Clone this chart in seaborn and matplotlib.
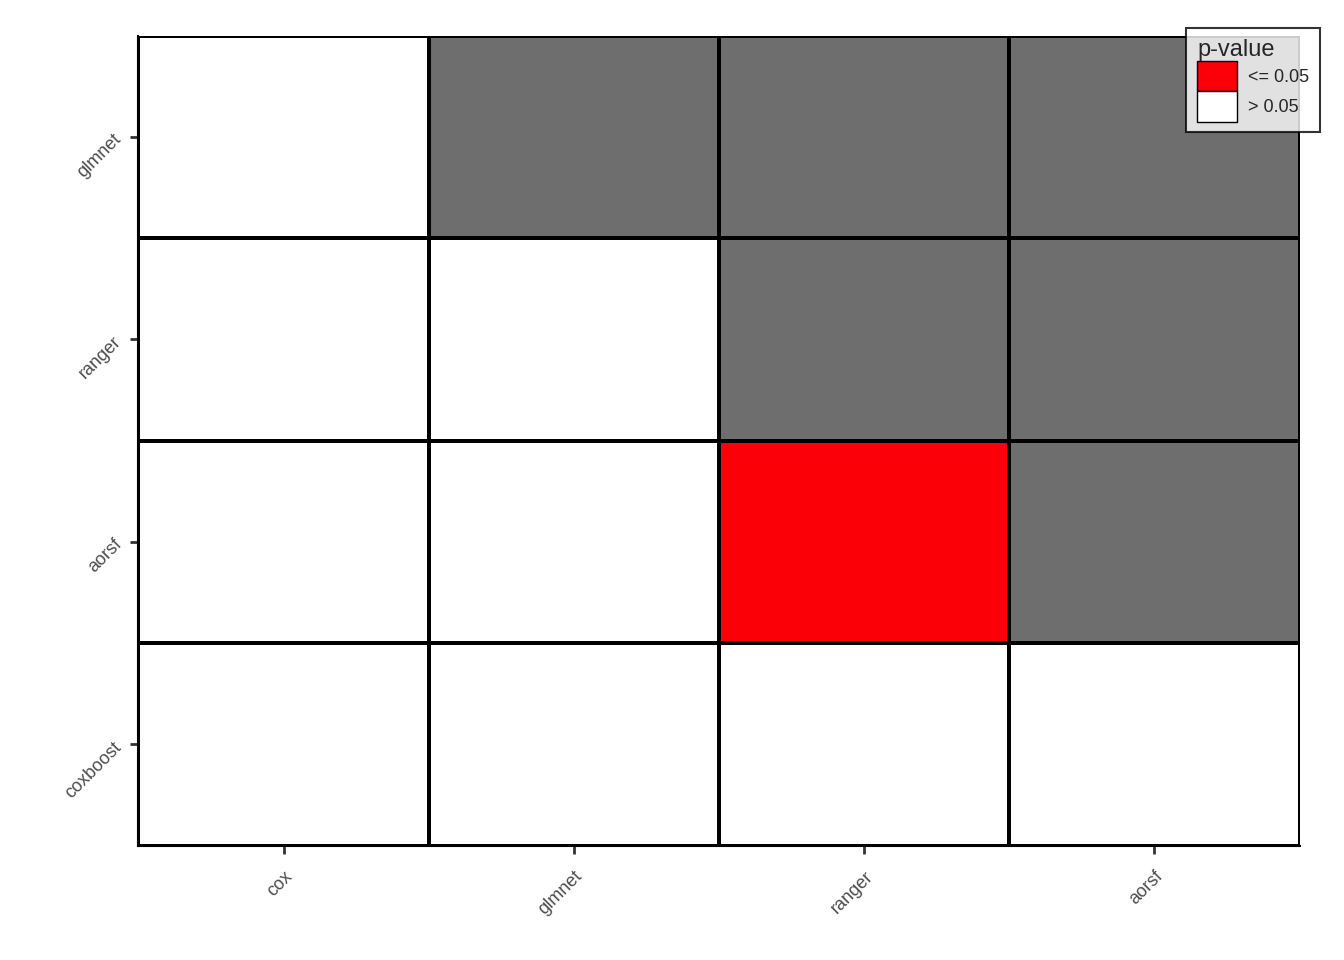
import matplotlib
matplotlib.use('Agg')
import matplotlib.pyplot as plt
import numpy as np
import pandas as pd
import seaborn as sns
from matplotlib.colors import ListedColormap
from matplotlib.patches import Patch

rows = ['glmnet', 'ranger', 'aorsf', 'coxboost']
cols = ['cox', 'glmnet', 'ranger', 'aorsf']
# 1 = p <= 0.05, 0 = p > 0.05, nan = not compared
sig = [[0, np.nan, np.nan, np.nan],
       [0, 0, np.nan, np.nan],
       [0, 0, 1, np.nan],
       [0, 0, 0, 0]]

df = pd.DataFrame(sig, index=rows, columns=cols)

sns.set_style('white')
plt.rcParams['font.family'] = ['Liberation Sans', 'DejaVu Sans']
fig, ax = plt.subplots(figsize=(13.44, 9.6), dpi=100)
fig.subplots_adjust(left=0.103, right=0.967, top=0.963, bottom=0.119)
ax.set_facecolor('#6e6e6e')
sns.heatmap(df, mask=df.isna(), cmap=ListedColormap(['white', '#fb0007']), vmin=0, vmax=1,
            linewidths=1.5, linecolor='black', cbar=False, ax=ax)
ax.set_xlabel('')
ax.set_ylabel('')
ax.tick_params(axis='both', length=6, width=2, color='#333333', labelsize=13, labelcolor='#4d4d4d', pad=8)
ax.tick_params(axis='x', bottom=True, pad=10)
ax.tick_params(axis='y', left=True)
plt.setp(ax.get_xticklabels(), rotation=45, ha='right', rotation_mode='anchor')
plt.setp(ax.get_yticklabels(), rotation=45, ha='right', va='center', rotation_mode='anchor')
for s in ['left', 'bottom']:
    ax.spines[s].set_visible(True)
    ax.spines[s].set_color('black')
    ax.spines[s].set_linewidth(1.5)

handles = [Patch(facecolor='#fb0007', edgecolor='black', label='<= 0.05'),
           Patch(facecolor='white', edgecolor='black', label='> 0.05')]
leg = ax.legend(handles=handles, title='p-value', loc='upper right', bbox_to_anchor=(1.025, 1.02),
                frameon=True, fontsize=13, title_fontsize=17, handlelength=2.2, handleheight=2.2,
                fancybox=False, borderpad=0.6, handletextpad=0.6, labelspacing=0.0)
leg.get_frame().set_edgecolor('black')
leg.get_frame().set_linewidth(1.5)
leg._legend_box.align = 'left'

plt.savefig('out.png')
